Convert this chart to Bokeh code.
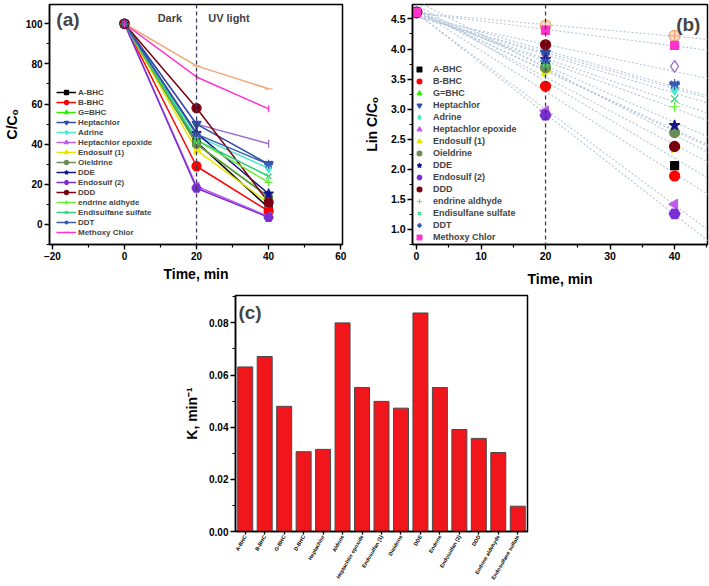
import numpy as np
from bokeh.plotting import figure
from bokeh.layouts import column, row, Spacer
from bokeh.models import (Legend, LegendItem, Label, Span, SingleIntervalTicker,
                          NumeralTickFormatter, FactorRange)
from bokeh.embed import file_html
from bokeh.resources import INLINE

# ---------------- data ----------------
times = [0, 20, 40]
series_names = ["A-BHC", "B-BHC", "G=BHC", "Heptachlor", "Adrine", "Heptachlor epoxide",
                "Endosulf (1)", "Oieldrine", "DDE", "Endosulf (2)", "DDD",
                "endrine aldhyde", "Endisulfane sulfate", "DDT", "Methoxy Chlor",
                "extra 1", "extra 2"]
n_legend = 15

# panel (a): C/Co (%)
a_t0 = [100, 100, 100, 100, 100, 100, 100, 100, 100, 100, 100, 100, 100, 100, 100, 100, 100]
a_t20 = [41, 29, 40, 50, 44, 19, 37, 40, 45.5, 18, 58, 42, 42, 45, 73.5, 79, 50]
a_t40 = [8.3, 6.6, 14, 30, 28, 4, 10.6, 13.6, 15.3, 3.5, 11, 21, 24, 30, 57.6, 67.6, 40.2]

# panel (b): Ln C/Co
b_t0 = [4.61, 4.61, 4.61, 4.61, 4.61, 4.61, 4.61, 4.61, 4.61, 4.61, 4.61, 4.61, 4.61, 4.61, 4.61, 4.61, 4.61]
b_t20 = [3.71, 3.38, 3.69, 3.93, 3.78, 2.97, 3.63, 3.69, 3.83, 2.90, 4.07, 3.74, 3.74, 3.80, 4.31, 4.39, 3.91]
b_t40 = [2.06, 1.89, 2.64, 3.40, 3.33, 1.42, 2.36, 2.61, 2.73, 1.26, 2.38, 3.04, 3.17, 3.41, 4.06, 4.22, 3.71]

# panel (c): rate constants
k_cats = ["A-BHC", "B-BHC", "G-BHC", "D-BHC", "Heptachlor", "Aldrine", "Heptachlor epoxide",
          "Endosulfan (1)", "Dieldrine", "DDE", "Endrine", "Endosulfan (2)", "DDD",
          "Endrine aldehyde", "Endosulfane sulfate"]
k_vals = [0.0631, 0.0671, 0.0480, 0.0306, 0.0315, 0.0800, 0.0552, 0.0499, 0.0473,
          0.0838, 0.0552, 0.0391, 0.0357, 0.0303, 0.0097]

# ---------------- styles ----------------
FONT = "Liberation Sans"
colors = ["#000000", "#ff0000", "#33ee00", "#2f4fa8", "#4de8c8", "#c05ee8", "#e6e600",
          "#6e8c58", "#14148c", "#7a2ed2", "#7a0010", "#66ee33", "#2fd07a", "#3a5cb0",
          "#ff33cc", "#f0a878", "#9b6ad0"]
markers_b = ["square", "circle", "triangle", "inverted_triangle", "diamond", "triangle",
             "triangle", "circle", "star", "hex", "circle", "cross", "x", "asterisk",
             "square", "circle_cross", "diamond"]
markers_a = list(markers_b)
markers_a[14] = "dash"
markers_a[15] = "dash"
markers_a[16] = "dash"
angles = [0, 0, 0, 0, 0, np.pi / 2, -np.pi / 2, 0, 0, 0, 0, 0, 0, 0, 0, 0, 0]
angles_a = list(angles)
angles_a[14] = np.pi / 2
angles_a[16] = np.pi / 2
sizes_b = [8, 10, 9, 10, 11, 10, 10, 10, 11, 11, 10, 10, 10, 11, 8, 11, 12]
sizes_a = [7, 9, 8, 9, 9, 8, 8, 8, 10, 9, 9, 8, 8, 9, 7, 8, 8]
fills = list(colors)
fills[15] = "#f8dcc8"
fills[16] = None


def style(p, tick_size, label_size):
    p.xgrid.visible = False
    p.ygrid.visible = False
    p.outline_line_color = "black"
    p.outline_line_width = 1.5
    p.background_fill_color = "white"
    p.border_fill_color = "white"
    for ax in p.xaxis + p.yaxis:
        ax.axis_line_color = "black"
        ax.axis_line_width = 1.5
        ax.major_tick_line_color = "black"
        ax.major_tick_line_width = 1.3
        ax.minor_tick_line_color = "black"
        ax.minor_tick_line_width = 1.2
        ax.major_tick_in = 0
        ax.major_tick_out = 5
        ax.minor_tick_in = 0
        ax.minor_tick_out = 3
        ax.major_label_standoff = 2
        ax.major_label_text_font = FONT
        ax.major_label_text_font_style = "bold"
        ax.major_label_text_font_size = tick_size
        ax.major_label_text_color = "black"
        ax.axis_label_text_font = FONT
        ax.axis_label_text_font_style = "bold"
        ax.axis_label_text_font_size = label_size
        ax.axis_label_text_color = "black"


# drawing order: the two unlabelled series first, then the legend series
order = [15, 16] + list(range(n_legend))

# ---------------- panel (a) ----------------
pa = figure(width=352, height=290, x_range=(-20.8, 60.5), y_range=(-10, 109.6),
            output_backend="svg", toolbar_location=None,
            min_border_left=45, min_border_right=10, min_border_top=4, min_border_bottom=46)
style(pa, "10px", "14px")
pa.xaxis.ticker = SingleIntervalTicker(interval=20, num_minor_ticks=2)
pa.yaxis.ticker = SingleIntervalTicker(interval=20, num_minor_ticks=2)
pa.xaxis.axis_label = "Time, min"
pa.yaxis.axis_label = "C/Cₒ"
pa.xaxis.axis_label_standoff = 3
pa.yaxis.axis_label_standoff = 3
pa.add_layout(Span(location=20, dimension="height", line_color="#3a3f5c",
                   line_dash="4 3", line_width=1.3))

line_r = {}
scat_r = {}
for i in order:
    ys = [a_t0[i], a_t20[i], a_t40[i]]
    line_r[i] = pa.line(times, ys, line_color=colors[i], line_width=1.5)
for i in order:
    ys = [a_t0[i], a_t20[i], a_t40[i]]
    scat_r[i] = pa.scatter(times, ys, marker=markers_a[i], angle=angles_a[i],
                           size=sizes_a[i], line_color=colors[i], fill_color=fills[i],
                           line_width=1.3)
items_a = [LegendItem(label=series_names[i], renderers=[line_r[i], scat_r[i]])
           for i in range(n_legend)]
leg_a = Legend(items=items_a, location=(7, 7), background_fill_alpha=0,
               border_line_color=None, padding=0, margin=0, spacing=0,
               glyph_width=20, glyph_height=10, label_height=10, label_standoff=2,
               label_text_font=FONT, label_text_font_style="bold",
               label_text_font_size="8px")
pa.add_layout(leg_a)
pa.add_layout(Label(x=-18.9, y=107.6, text="(a)", text_baseline="top",
                    text_font=FONT, text_font_style="bold", text_font_size="19px"))
pa.add_layout(Label(x=12.6, y=103.1, text="Dark", text_align="center", text_baseline="middle",
                    text_font=FONT, text_font_style="bold", text_font_size="11px"))
pa.add_layout(Label(x=29, y=103.1, text="UV light", text_align="center", text_baseline="middle",
                    text_font=FONT, text_font_style="bold", text_font_size="11px"))

# ---------------- panel (b) ----------------
pb = figure(width=357, height=290, x_range=(-0.62, 45.1), y_range=(0.75, 4.74),
            output_backend="svg", toolbar_location=None,
            min_border_left=60, min_border_right=2, min_border_top=4, min_border_bottom=46)
style(pb, "10.5px", "14px")
pb.xaxis.ticker = SingleIntervalTicker(interval=10, num_minor_ticks=2)
pb.yaxis.ticker = SingleIntervalTicker(interval=0.5, num_minor_ticks=2)
pb.yaxis.formatter = NumeralTickFormatter(format="0.0")
pb.xaxis.axis_label = "Time, min"
pb.yaxis.axis_label = "Lin C/Cₒ"
pb.xaxis.axis_label_standoff = 8
pb.yaxis.axis_label_standoff = 8

# fitted straight lines (dotted)
fx0, fx1 = 0.0, 47.0
for i in range(len(series_names)):
    ys = [b_t0[i], b_t20[i], b_t40[i]]
    slope, icpt = np.polyfit(times, ys, 1)
    pb.segment(x0=[fx0], y0=[icpt + slope * fx0], x1=[fx1], y1=[icpt + slope * fx1],
               line_color="#b4c7da", line_dash="2 2", line_width=1.1)
pb.add_layout(Span(location=20, dimension="height", line_color="#404040",
                   line_dash="4 3", line_width=1.3))
scat_b = {}
for i in order:
    ys = [b_t0[i], b_t20[i], b_t40[i]]
    scat_b[i] = pb.scatter(times, ys, marker=markers_b[i], angle=angles[i], size=sizes_b[i],
                           line_color=colors[i], fill_color=fills[i], line_width=1.2)
items_b = [LegendItem(label=series_names[i], renderers=[scat_b[i]]) for i in range(n_legend)]
leg_b = Legend(items=items_b, location=(1, 1), background_fill_alpha=0,
               border_line_color=None, padding=0, margin=0, spacing=0,
               glyph_width=12, glyph_height=12, label_height=12, label_standoff=8,
               label_text_font=FONT, label_text_font_style="bold",
               label_text_font_size="9px")
pb.add_layout(leg_b)
pb.add_layout(Label(x=44.0, y=4.59, text="(b)", text_align="right", text_baseline="top",
                    text_font=FONT, text_font_style="bold", text_font_size="19px"))

# ---------------- panel (c) ----------------
pc = figure(width=380, height=295, x_range=FactorRange(factors=k_cats), y_range=(0, 0.0905),
            output_backend="svg", toolbar_location=None,
            min_border_left=75, min_border_right=13, min_border_top=5, min_border_bottom=53)
style(pc, "10px", "14px")
pc.vbar(x=k_cats, top=k_vals, width=0.77, fill_color="#f0161c", line_color="#4a4a4a",
        line_width=1)
pc.yaxis.ticker = SingleIntervalTicker(interval=0.02, num_minor_ticks=2)
pc.yaxis.formatter = NumeralTickFormatter(format="0.00")
pc.yaxis.axis_label = "K, min⁻¹"
pc.yaxis.axis_label_standoff = 6
pc.xaxis.major_label_orientation = np.pi / 3
pc.xaxis.major_label_text_font_size = "5.3px"
pc.xaxis.major_label_text_font_style = "bold"
pc.xaxis.major_tick_out = 3
pc.xaxis.major_label_standoff = 1
pc.add_layout(Label(x=0.15, y=0.0879, text="(c)", text_baseline="top",
                    text_font=FONT, text_font_style="bold", text_font_size="19px"))

layout = column(row(pa, pb), row(Spacer(width=160, height=295), pc))

open("out.html", "w").write(file_html(layout, INLINE))
